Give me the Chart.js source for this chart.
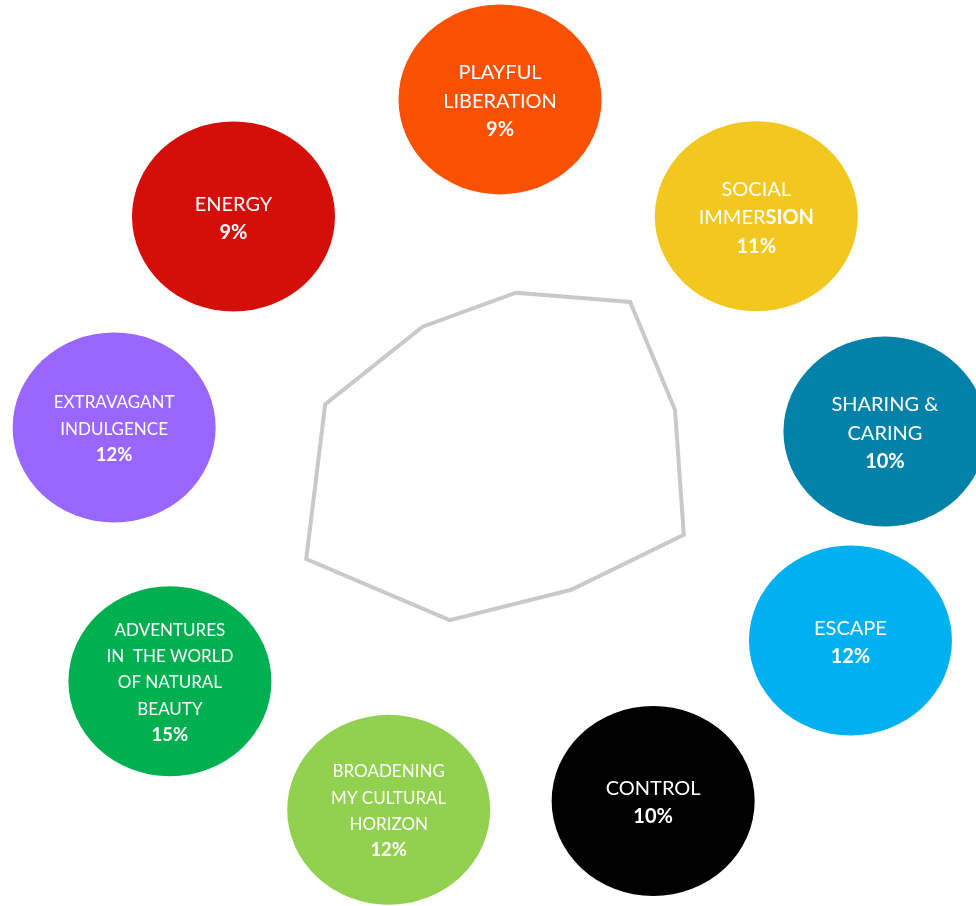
<!DOCTYPE html>
<html>
<head>
<meta charset="utf-8">
<script src="https://cdn.jsdelivr.net/npm/chart.js@4/dist/chart.umd.min.js"></script>
<style>
  html, body { margin: 0; padding: 0; background: #fff; }
  #wrap { width: 976px; height: 906px; position: relative; }
</style>
</head>
<body>
<div id="wrap"><canvas id="motivesChart"></canvas></div>
<script>
// categories clockwise from the top, each as its text lines (**x** = bold run)
const categories = [
    ["PLAYFUL", "LIBERATION"],
    ["SOCIAL", "IMMER**SION**"],
    ["SHARING &", "CARING"],
    ["ESCAPE"],
    ["CONTROL"],
    ["BROADENING", "MY CULTURAL", "HORIZON"],
    ["ADVENTURES", "IN  THE WORLD", "OF NATURAL", "BEAUTY"],
    ["EXTRAVAGANT", "INDULGENCE"],
    ["ENERGY"]
];
const shares = [9, 11, 10, 12, 10, 12, 15, 12, 9]; // percent

// styling / layout of the label bubbles (not data)
const bubbleColors = ["#F95002", "#F2C71F", "#0481A8", "#00B0F0", "#000000", "#92D050", "#00B050", "#9966FF", "#D40F0A"];
const bubbleSpots = [[-2.7, 339], [7.3, 327], [9.0, 369], [1.2, 391], [-0.7, 388], [-1.1, 393], [-5.1, 423], [-8.5, 402], [-11.9, 359]]; // [angle offset deg, distance px]
const bubbleFont = [20, 20, 20, 20, 20, 17, 17, 17, 20];

const FONT = "Lato, 'Open Sans', sans-serif";

function drawLine(ctx, line, cx, y, size, forceBold) {
    // split into regular/bold runs
    const parts = line.split("**");
    const runs = parts.map((t, i) => ({ t: t, b: forceBold || i % 2 === 1 })).filter(r => r.t.length);
    let total = 0;
    runs.forEach(r => {
        ctx.font = (r.b ? "bold " : "") + size + "px " + FONT;
        r.w = ctx.measureText(r.t).width;
        total += r.w;
    });
    let x = cx - total / 2;
    runs.forEach(r => {
        ctx.font = (r.b ? "bold " : "") + size + "px " + FONT;
        ctx.fillText(r.t, x, y);
        x += r.w;
    });
}

const bubblePlugin = {
    id: "bubbles",
    afterDraw(chart) {
        const ctx = chart.ctx;
        const scale = chart.scales.r;
        ctx.save();
        categories.forEach((lines, i) => {
            const spot = bubbleSpots[i];
            const p = scale.getPointPosition(i, spot[1], spot[0] * Math.PI / 180);
            ctx.beginPath();
            ctx.ellipse(p.x, p.y, 101.5, 95, 0, 0, Math.PI * 2);
            ctx.fillStyle = bubbleColors[i];
            ctx.fill();

            const size = bubbleFont[i];
            const lh = size === 20 ? 28.3 : 26.3;
            const all = lines.concat([shares[i] + "%"]);
            const cap = size * 0.72;
            let y = p.y - (all.length - 1) * lh / 2 + cap / 2 + 1;
            ctx.fillStyle = "#ffffff";
            ctx.textAlign = "left";
            ctx.textBaseline = "alphabetic";
            all.forEach((ln, j) => {
                const last = j === all.length - 1;
                drawLine(ctx, ln, p.x, y, last ? Math.max(size, 18.5) : size, last);
                y += lh;
            });
        });
        ctx.restore();
    }
};

new Chart(document.getElementById("motivesChart"), {
    type: "radar",
    data: {
        labels: categories.map(l => l.join(" ").replace(/\*\*/g, "")),
        datasets: [{
            label: "Share",
            data: shares,
            borderColor: "#C8C9CA",
            borderWidth: 4,
            backgroundColor: "rgba(0,0,0,0)",
            fill: false,
            pointRadius: 0,
            pointHoverRadius: 0,
            tension: 0
        }]
    },
    options: {
        responsive: true,
        maintainAspectRatio: false,
        animation: false,
        layout: { padding: { left: 56, right: 0, top: 2, bottom: 32 } },
        plugins: {
            legend: { display: false },
            tooltip: { enabled: false }
        },
        scales: {
            r: {
                min: 0,
                max: 27,
                grid: { display: false },
                angleLines: { display: false },
                ticks: { display: false },
                pointLabels: { display: false }
            }
        }
    },
    plugins: [bubblePlugin]
});
</script>
</body>
</html>
